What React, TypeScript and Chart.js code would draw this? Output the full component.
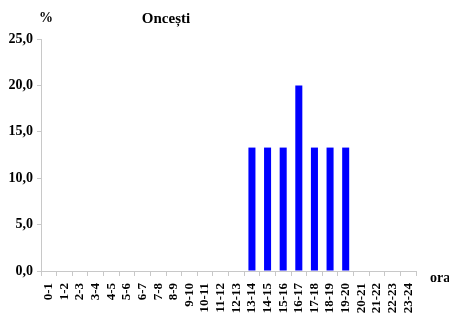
import React, { useEffect, useRef } from "react";
import { Chart, registerables } from "chart.js";

Chart.register(...registerables);

const hours: string[] = [
  "0-1", "1-2", "2-3", "3-4", "4-5", "5-6", "6-7", "7-8", "8-9", "9-10",
  "10-11", "11-12", "12-13", "13-14", "14-15", "15-16", "16-17", "17-18",
  "18-19", "19-20", "20-21", "21-22", "22-23", "23-24",
];

const percent: number[] = [
  0, 0, 0, 0, 0, 0, 0, 0, 0, 0,
  0, 0, 0, 13.3, 13.3, 13.3, 20.0, 13.3,
  13.3, 13.3, 0, 0, 0, 0,
];

const yTicks: number[] = [0, 5, 10, 15, 20, 25];

const chartTitle = "Oncești";
const yUnit = "%";
const xUnit = "ora";

const FONT = "'Liberation Serif', 'Times New Roman', serif";
const AXIS_GRAY = "#c8c8c8";

// Draws the title and the two axis unit labels on the canvas.
const labelsPlugin = {
  id: "unitLabels",
  afterDraw(chart: Chart) {
    const { ctx, chartArea } = chart;
    ctx.save();
    ctx.fillStyle = "#000";
    ctx.textBaseline = "alphabetic";
    ctx.textAlign = "center";
    ctx.font = `bold 15px ${FONT}`;
    ctx.fillText(chartTitle, 166, 23);
    ctx.font = `bold 14px ${FONT}`;
    ctx.fillText(yUnit, chartArea.left + 5, 22);
    ctx.textAlign = "left";
    ctx.font = `bold 14px ${FONT}`;
    ctx.fillText(xUnit, chartArea.right + 14, chartArea.bottom + 11);
    ctx.restore();
  },
};

export default function App() {
  const ref = useRef<HTMLCanvasElement | null>(null);

  useEffect(() => {
    if (!ref.current) return;
    const chart = new Chart(ref.current, {
      type: "bar",
      data: {
        labels: hours,
        datasets: [
          {
            data: percent,
            backgroundColor: "#0000ff",
            borderWidth: 0,
            barPercentage: 0.45,
            categoryPercentage: 1,
          },
        ],
      },
      options: {
        animation: false,
        responsive: false,
        maintainAspectRatio: false,
        layout: { padding: { top: 39, right: 33, left: 0, bottom: 0 } },
        plugins: {
          legend: { display: false },
          tooltip: { enabled: false },
          title: { display: false },
        },
        scales: {
          x: {
            offset: true,
            grid: {
              offset: true,
              drawOnChartArea: false,
              drawTicks: true,
              tickLength: 5,
              color: AXIS_GRAY,
            },
            border: { color: AXIS_GRAY, width: 1 },
            ticks: {
              autoSkip: false,
              maxRotation: 90,
              minRotation: 90,
              padding: 7,
              color: "#000",
              font: { family: FONT, size: 13, weight: "bold" },
            },
            afterFit(scale: any) {
              scale.height = 56;
            },
          },
          y: {
            min: 0,
            max: 25,
            afterBuildTicks(scale: any) {
              scale.ticks = yTicks.map((v) => ({ value: v }));
            },
            grid: {
              drawOnChartArea: false,
              drawTicks: true,
              tickLength: 4,
              color: AXIS_GRAY,
            },
            border: { color: AXIS_GRAY, width: 1 },
            ticks: {
              padding: 4,
              color: "#000",
              font: { family: FONT, size: 14, weight: "bold" },
              callback: (v: any) => Number(v).toFixed(1).replace(".", ","),
            },
            afterFit(scale: any) {
              scale.width = 41;
            },
          },
        },
      },
      plugins: [labelsPlugin],
    });
    return () => chart.destroy();
  }, []);

  return (
    <div style={{ position: "absolute", left: 0, top: 0, width: 449, height: 327, background: "#fff" }}>
      <canvas ref={ref} width={449} height={327} />
    </div>
  );
}
